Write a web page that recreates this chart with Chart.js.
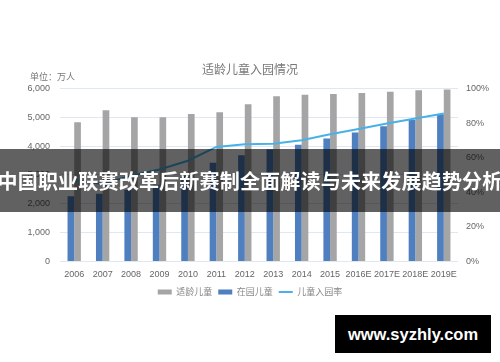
<!DOCTYPE html>
<html>
<head>
<meta charset="utf-8">
<script src="https://cdn.jsdelivr.net/npm/chart.js@4/dist/chart.umd.min.js"></script>
<style>
  html, body { margin: 0; padding: 0; background: #ffffff; }
  #wrap { position: relative; width: 500px; height: 362px; overflow: hidden; }
  #c { position: absolute; left: 0; top: 0; }
  #unit { position: absolute; left: 30px; top: 71px; font: 9px "Noto Sans CJK SC", sans-serif; color: #777; line-height: 12px; white-space: nowrap; }
  #banner { position: absolute; left: -20px; top: 149px; width: 540px; height: 63px; background: rgba(0,0,0,0.62);
            color: #fff; font: bold 20px "Noto Sans CJK SC", sans-serif; line-height: 63px; text-align: center; white-space: nowrap; letter-spacing: 0.2px; }
  #wm { position: absolute; left: 335px; top: 315px; width: 156px; height: 38px; background: #000; color: #fff;
        font: bold 16.5px "Liberation Sans", Arial, sans-serif; line-height: 38px; text-align: center; white-space: nowrap; }
</style>
</head>
<body>
<div id="wrap">
  <canvas id="c" width="500" height="362"></canvas>
  <div id="unit">单位：万人</div>
  <div id="banner">中国职业联赛改革后新赛制全面解读与未来发展趋势分析</div>
  <div id="wm">www.syzhly.com</div>
</div>
<script>
const categories = ['2006','2007','2008','2009','2010','2011','2012','2013','2014','2015','2016E','2017E','2018E','2019E'];
const eligibleChildren = [4830, 5240, 5000, 5000, 5115, 5170, 5450, 5725, 5780, 5805, 5840, 5885, 5940, 5965];
const enrolledChildren = [2264, 2349, 2475, 2658, 2977, 3425, 3686, 3895, 4051, 4265, 4469, 4690, 4907, 5103];
const enrollmentRate = [0.469, 0.448, 0.495, 0.532, 0.582, 0.662, 0.677, 0.68, 0.701, 0.735, 0.765, 0.797, 0.826, 0.855];
const leftTicks = [0, 1000, 2000, 3000, 4000, 5000, 6000];
const rightTicks = [0, 0.2, 0.4, 0.6, 0.8, 1.0];
const seriesNames = ['适龄儿童', '在园儿童', '儿童入园率'];
const chartTitle = '适龄儿童入园情况';

const tickFont = { family: '"Liberation Sans", Arial, sans-serif', size: 9 };
const gridColor = '#dde8f4';

new Chart(document.getElementById('c'), {
  data: {
    labels: categories,
    datasets: [
      { type: 'bar', label: seriesNames[0], data: eligibleChildren, backgroundColor: '#a5a5a5', yAxisID: 'y', order: 2,
        categoryPercentage: 0.47, barPercentage: 1.0 },
      { type: 'bar', label: seriesNames[1], data: enrolledChildren, backgroundColor: '#4f7fbe', yAxisID: 'y', order: 1,
        categoryPercentage: 0.47, barPercentage: 1.0 },
      { type: 'line', label: seriesNames[2], data: enrollmentRate, borderColor: '#48b2e8', backgroundColor: '#48b2e8',
        borderWidth: 2, pointRadius: 0, tension: 0, yAxisID: 'y1', order: 0 }
    ]
  },
  options: {
    responsive: false,
    animation: false,
    devicePixelRatio: 1,
    layout: { padding: { left: 0, right: 0, top: 0, bottom: 55.5 } },
    plugins: {
      title: { display: true, text: chartTitle, color: '#777',
               font: { family: '"Noto Sans CJK SC", sans-serif', size: 12, weight: 'normal' },
               padding: { top: 62, bottom: 12 } },
      legend: {
        display: true, position: 'bottom',
        labels: {
          color: '#888', font: { family: '"Noto Sans CJK SC", sans-serif', size: 9 },
          usePointStyle: true, pointStyleWidth: 14, boxHeight: 5, padding: 6,
          sort: (a, b) => a.datasetIndex - b.datasetIndex,
          generateLabels: (chart) => {
            const items = Chart.defaults.plugins.legend.labels.generateLabels(chart);
            items.forEach(it => {
              const ds = chart.data.datasets[it.datasetIndex];
              if (ds.type === 'line') { it.pointStyle = 'line'; it.lineWidth = 2; it.strokeStyle = ds.borderColor; }
              else { it.pointStyle = 'rect'; it.lineWidth = 0; it.fillStyle = ds.backgroundColor; it.strokeStyle = ds.backgroundColor; }
            });
            return items;
          }
        }
      },
      tooltip: { enabled: false }
    },
    scales: {
      x: {
        grid: { display: false, drawTicks: false },
        border: { display: false },
        afterFit: (s) => { s.height = 20; },
        ticks: { color: '#666', font: tickFont, padding: 8, maxRotation: 0, autoSkip: false }
      },
      y: {
        position: 'left', min: 0, max: 6000,
        afterBuildTicks: (s) => { s.ticks = leftTicks.map(v => ({ value: v })); },
        afterFit: (s) => { s.width = 60; },
        grid: { color: gridColor, lineWidth: 1, drawTicks: false },
        border: { display: false },
        ticks: { color: '#666', font: tickFont, padding: 10,
                 callback: (v) => v.toLocaleString('en-US') }
      },
      y1: {
        position: 'right', min: 0, max: 1,
        afterBuildTicks: (s) => { s.ticks = rightTicks.map(v => ({ value: v })); },
        afterFit: (s) => { s.width = 42; },
        grid: { display: false, drawTicks: false },
        border: { display: false },
        ticks: { color: '#666', font: tickFont, padding: 8,
                 callback: (v) => Math.round(v * 100) + '%' }
      }
    }
  }
});
</script>
</body>
</html>
